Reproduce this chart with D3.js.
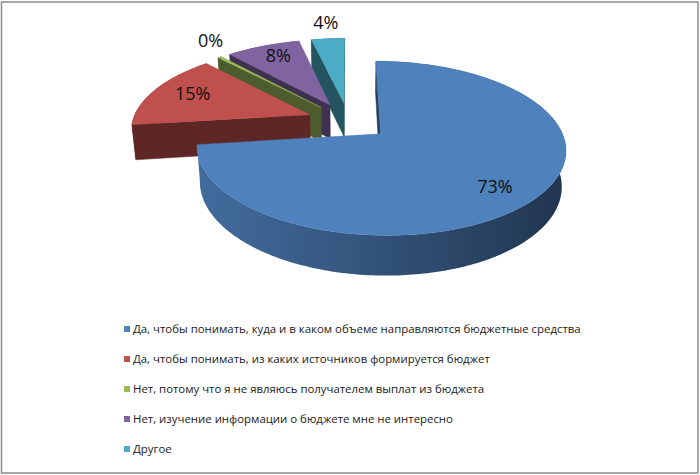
<!DOCTYPE html>
<html>
<head>
<meta charset="utf-8">
<script src="https://cdn.jsdelivr.net/npm/d3@7"></script>
<style>
  body { margin: 0; background: #fff; }
  svg { display: block; }
</style>
</head>
<body>
<div id="chart"></div>
<script>
// données
const categories = [
    "Да, чтобы понимать, куда и в каком объеме направляются бюджетные средства",
    "Да, чтобы понимать, из каких источников формируется бюджет",
    "Нет, потому что я не являюсь получателем выплат из бюджета",
    "Нет, изучение информации о бюджете мне не интересно",
    "Другое"
]
const values = [73, 15, 0.4, 8, 3.6]
const colors = ["#4F81BD", "#C0504D", "#9BBB59", "#8064A2", "#4BACC6"]

let width = 700, height = 475

let svg = d3.select("#chart")
    .append("svg")
    .attr("width", width)
    .attr("height", height)

// cadre
svg.append("rect")
    .attr("x", 1.5).attr("y", 2)
    .attr("width", 696.5).attr("height", 471)
    .attr("fill", "#fff")
    .attr("stroke", "#8c8c8c")
    .attr("stroke-width", 1.5)

// projection en perspective du camembert 3D
const tilt = 27 * Math.PI / 180
const camDist = 5.5, focal = 975
const cx = 348.5, cy = 121
const thick = 0.225, explode = 0.235

function project(x, y, z) {
    const d = camDist - (y * Math.sin(tilt) + z * Math.cos(tilt))
    return [cx + focal * x / d, cy - focal * (y * Math.cos(tilt) - z * Math.sin(tilt)) / d]
}

let pie = d3.pie().sort(null).value(d => d)
let total = d3.sum(values)

let slices = pie(values).map((d, i) => {
    const mid = (d.startAngle + d.endAngle) / 2
    return Object.assign({}, d, {
        i: i, mid: mid,
        ox: explode * Math.sin(mid),
        oz: -explode * Math.cos(mid)
    })
})

function pt(s, a, r, y) {
    return project(s.ox + r * Math.sin(a), y, s.oz - r * Math.cos(a))
}

function rim(s, y) {
    const n = Math.max(2, Math.ceil((s.endAngle - s.startAngle) / (Math.PI / 180)))
    return d3.range(n + 1).map(k => pt(s, s.startAngle + (s.endAngle - s.startAngle) * k / n, 1, y))
}

let color = d3.scaleOrdinal().domain(categories).range(colors)
let line = d3.line().curve(d3.curveLinearClosed)

let defs = svg.append("defs")
let g = svg.append("g")

// du fond vers l'avant
slices.slice().sort((a, b) => a.oz - b.oz).forEach(s => {
    const c = color(categories[s.i])
    const dark = d3.color(c).darker(2).formatHex()
    const top = rim(s, 0), bot = rim(s, -thick)
    const v0 = pt(s, 0, 0, 0), v1 = pt(s, 0, 0, -thick)

    // faces radiales visibles
    const f0 = [v0, top[0], bot[0], v1]
    const f1 = [top[top.length - 1], v0, v1, bot[bot.length - 1]]
    ;[f0, f1].forEach(f => {
        if (d3.polygonArea(f) > 0) {
            g.append("path")
                .attr("d", line(f))
                .attr("fill", dark)
                .attr("stroke", dark)
                .attr("stroke-width", 0.5)
                .attr("stroke-linejoin", "round")
        }
    })

    // bord extérieur
    let sideFill = dark
    if (s.endAngle - s.startAngle > Math.PI) {
        const id = "side" + s.i
        const grad = defs.append("linearGradient")
            .attr("id", id)
            .attr("gradientUnits", "userSpaceOnUse")
            .attr("x1", 200).attr("x2", 570).attr("y1", 0).attr("y2", 0)
        grad.append("stop").attr("offset", 0).attr("stop-color", d3.color(c).darker(0.5).formatHex())
        grad.append("stop").attr("offset", 0.5).attr("stop-color", d3.color(c).darker(1.3).formatHex())
        grad.append("stop").attr("offset", 1).attr("stop-color", d3.color(c).darker(2.5).formatHex())
        sideFill = "url(#" + id + ")"
    }
    g.append("path")
        .attr("d", line(top.concat(bot.slice().reverse())))
        .attr("fill", sideFill)

    // dessus
    g.append("path")
        .attr("d", line([v0].concat(top)))
        .attr("fill", c)
        .attr("stroke", c)
        .attr("stroke-width", 0.4)
})

// étiquettes de pourcentage
let labelPos = [
    { r: 0.75, dy: 7 },
    { r: 0.75, dy: -1.5 },
    { r: 1.1, dy: -12 },
    { r: 0.75, dy: -4 },
    { r: 1.15, dy: -8 }
]
let fmt = d3.format(".0%")

slices.forEach(s => {
    const p = pt(s, s.mid, labelPos[s.i].r, 0)
    svg.append("text")
        .attr("x", p[0])
        .attr("y", p[1] + labelPos[s.i].dy)
        .attr("dy", "0.35em")
        .attr("text-anchor", "middle")
        .style("font-family", "'Open Sans', sans-serif")
        .style("font-size", "18px")
        .style("fill", "#111")
        .text(fmt(s.value / total))
})

// légende
let legend = svg.selectAll(".legend")
    .data(categories)
    .enter().append("g")
    .attr("class", "legend")
    .attr("transform", (d, i) => "translate(124," + (329 + i * 30) + ")")

legend.append("rect")
    .attr("y", -3)
    .attr("width", 6)
    .attr("height", 6)
    .attr("fill", d => color(d))

legend.append("text")
    .attr("x", 9)
    .attr("dy", "0.35em")
    .style("font-family", "'Open Sans', sans-serif")
    .style("font-size", "11.4px")
    .style("fill", "#1a1a1a")
    .text(d => d)
</script>
</body>
</html>
